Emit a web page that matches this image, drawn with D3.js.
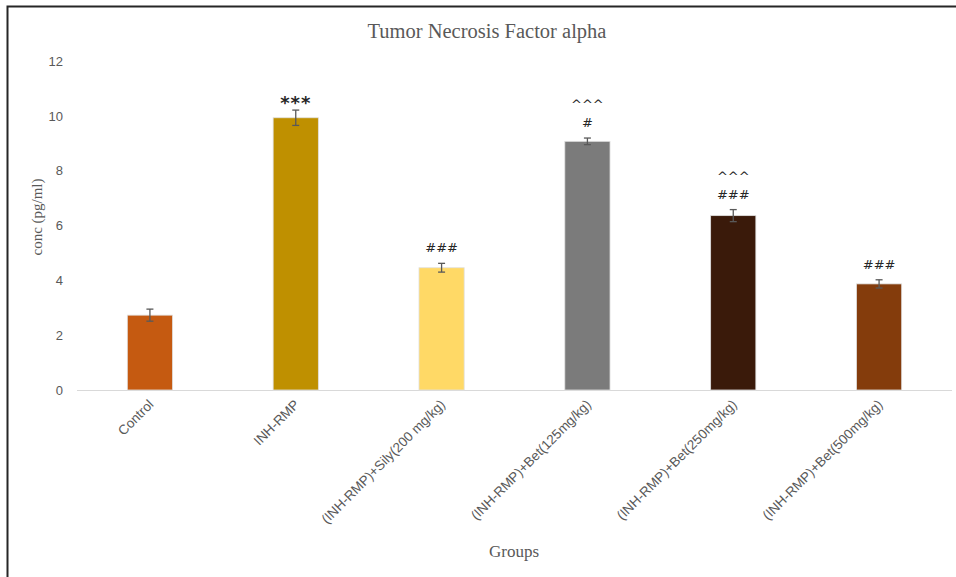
<!DOCTYPE html>
<html>
<head>
<meta charset="utf-8">
<script src="https://cdn.jsdelivr.net/npm/d3@7"></script>
<style>
  body { margin: 0; background: #fff; }
</style>
</head>
<body>
<div id="chart"></div>
<script>
// data
var groups = ["Control", "INH-RMP", "(INH-RMP)+Sily(200 mg/kg)", "(INH-RMP)+Bet(125mg/kg)",
              "(INH-RMP)+Bet(250mg/kg)", "(INH-RMP)+Bet(500mg/kg)"];
var means = [2.73, 9.93, 4.46, 9.07, 6.36, 3.87];
var errs = [0.22, 0.28, 0.16, 0.12, 0.22, 0.15];
var colors = ["#c55a11", "#bf9000", "#ffd966", "#7b7b7b", "#3a1a0a", "#843c0c"];
// significance marks, listed from the bar upwards
var marks = [[], ["***"], ["###"], ["#", "^^^"], ["###", "^^^"], ["###"]];
var yTicks = [0, 2, 4, 6, 8, 10, 12];

var svg = d3.select("#chart")
  .append("svg")
    .attr("width", 956)
    .attr("height", 577);

// frame (top and left edges only visible)
svg.append("path")
    .attr("d", "M7.5,577V6.5H956")
    .attr("fill", "none")
    .attr("stroke", "#262626")
    .attr("stroke-width", 2);

var margin = {top: 61, right: 4, bottom: 187, left: 77},
    width = 956 - margin.left - margin.right,
    height = 577 - margin.top - margin.bottom;

var x = d3.scaleBand()
    .domain(groups)
    .range([0, width])
    .paddingInner(0.69)
    .paddingOuter(0.345);

var y = d3.scaleLinear()
    .domain([0, 12])
    .range([height, 0]);

var g = svg.append("g")
    .attr("transform", "translate(" + margin.left + "," + margin.top + ")");

// y axis labels, no line
var yAxis = g.append("g")
    .call(d3.axisLeft(y).tickValues(yTicks).tickSize(0).tickPadding(14));
yAxis.select(".domain").remove();
yAxis.selectAll("text")
    .attr("fill", "#595959")
    .style("font-family", "Liberation Sans, Arial, sans-serif")
    .style("font-size", "13px");

// baseline
g.append("line")
    .attr("x1", 0).attr("x2", width)
    .attr("y1", y(0) + 0.5).attr("y2", y(0) + 0.5)
    .attr("stroke", "#d9d9d9")
    .attr("stroke-width", 1);

// x axis labels rotated
var xAxis = g.append("g")
    .attr("transform", "translate(0," + height + ")")
    .call(d3.axisBottom(x).tickSize(0).tickPadding(10));
xAxis.select(".domain").remove();
xAxis.selectAll("text")
    .attr("fill", "#595959")
    .style("font-family", "Liberation Sans, Arial, sans-serif")
    .style("font-size", "13.5px")
    .attr("text-anchor", "end")
    .attr("dy", "0.35em")
    .attr("transform", "translate(-6,5) rotate(-45)");

var data = groups.map(function(d, i) {
  return {group: d, mean: means[i], err: errs[i], color: colors[i], marks: marks[i]};
});

g.selectAll(".bar")
  .data(data)
  .enter().append("rect")
    .attr("class", "bar")
    .attr("x", function(d) { return x(d.group); })
    .attr("y", function(d) { return y(d.mean); })
    .attr("width", x.bandwidth())
    .attr("height", function(d) { return height - y(d.mean); })
    .attr("fill", function(d) { return d.color; })
    .attr("stroke", "#e0e0e0")
    .attr("stroke-width", 0.8);

// error bars
var eb = g.selectAll(".err")
  .data(data)
  .enter().append("g")
    .attr("class", "err")
    .attr("stroke", "#595959")
    .attr("stroke-width", 1.3);
eb.append("line")
    .attr("x1", function(d) { return x(d.group) + x.bandwidth() / 2; })
    .attr("x2", function(d) { return x(d.group) + x.bandwidth() / 2; })
    .attr("y1", function(d) { return y(d.mean + d.err); })
    .attr("y2", function(d) { return y(d.mean - d.err); });
eb.append("line")
    .attr("x1", function(d) { return x(d.group) + x.bandwidth() / 2 - 3.5; })
    .attr("x2", function(d) { return x(d.group) + x.bandwidth() / 2 + 3.5; })
    .attr("y1", function(d) { return y(d.mean + d.err); })
    .attr("y2", function(d) { return y(d.mean + d.err); });
eb.append("line")
    .attr("x1", function(d) { return x(d.group) + x.bandwidth() / 2 - 3.5; })
    .attr("x2", function(d) { return x(d.group) + x.bandwidth() / 2 + 3.5; })
    .attr("y1", function(d) { return y(d.mean - d.err); })
    .attr("y2", function(d) { return y(d.mean - d.err); });

// significance marks
data.forEach(function(d) {
  var cx = x(d.group) + x.bandwidth() / 2;
  var top = y(d.mean + d.err);
  d.marks.forEach(function(m, j) {
    var star = m.charAt(0) == "*";
    g.append("text")
      .attr("x", cx)
      .attr("y", star ? top - 1 : top - 11 - j * 18)
      .attr("text-anchor", "middle")
      .attr("fill", "#262626")
      .style("font-family", "DejaVu Sans, sans-serif")
      .style("font-size", star ? "18px" : "13px")
      .style("font-weight", star ? "bold" : "normal")
      .style("letter-spacing", star ? "1px" : "0px")
      .text(m);
  });
});

// titles
svg.append("text")
    .attr("x", 487)
    .attr("y", 38)
    .attr("text-anchor", "middle")
    .attr("fill", "#595959")
    .style("font-family", "Liberation Serif, Times New Roman, serif")
    .style("font-size", "20.5px")
    .text("Tumor Necrosis Factor alpha");

svg.append("text")
    .attr("transform", "translate(42,217) rotate(-90)")
    .attr("text-anchor", "middle")
    .attr("fill", "#595959")
    .style("font-family", "Liberation Serif, Times New Roman, serif")
    .style("font-size", "15px")
    .text("conc (pg/ml)");

svg.append("text")
    .attr("x", 514)
    .attr("y", 557)
    .attr("text-anchor", "middle")
    .attr("fill", "#595959")
    .style("font-family", "Liberation Serif, Times New Roman, serif")
    .style("font-size", "17px")
    .text("Groups");
</script>
</body>
</html>
